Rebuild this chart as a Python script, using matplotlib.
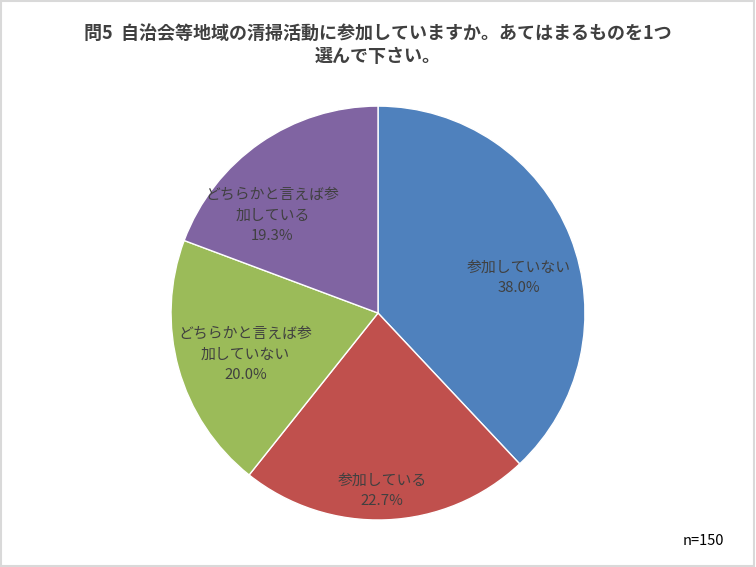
import matplotlib.pyplot as plt
from matplotlib.patches import Rectangle

plt.rcParams['font.family'] = ['Noto Sans CJK JP', 'DejaVu Sans']

categories = ['参加していない', '参加している', 'どちらかと言えば参\n加していない', 'どちらかと言えば参\n加している']
values = [38.0, 22.7, 20.0, 19.3]
colors = ['#4F81BD', '#C0504D', '#9BBB59', '#8064A2']
# label centres, in pie radius units
label_pos = [(0.68, 0.17), (0.02, -0.86), (-0.64, -0.20), (-0.51, 0.47)]

fig = plt.figure(figsize=(7.56, 5.67), dpi=100)
ax = fig.add_axes([0.2262, 0.0829, 0.5476, 0.730])
wedges, _ = ax.pie(values, colors=colors, startangle=90, counterclock=False,
                   wedgeprops=dict(edgecolor='white', linewidth=1))
ax.set_xlim(-1, 1)
ax.set_ylim(-1, 1)
ax.set_aspect('equal')

for cat, v, (x, y) in zip(categories, values, label_pos):
    ax.text(x, y, f'{cat}\n{v:.1f}%', ha='center', va='center', fontsize=10.7,
            color='#404040', linespacing=1.6)

fig.text(0.5, 0.958, '問5  自治会等地域の清掃活動に参加していますか。あてはまるものを1つ\n選んで下さい。',
         ha='center', va='top', fontsize=13, fontweight='bold', color='#404040',
         linespacing=1.25)
fig.text(0.958, 0.045, 'n=150', ha='right', va='center', fontsize=10.5, color='black')

fig.patches.append(Rectangle((0.001, 0.002), 0.997, 0.996, transform=fig.transFigure,
                             fill=False, edgecolor='#D9D9D9', linewidth=1.5))
fig.savefig('out.png', dpi=100)
